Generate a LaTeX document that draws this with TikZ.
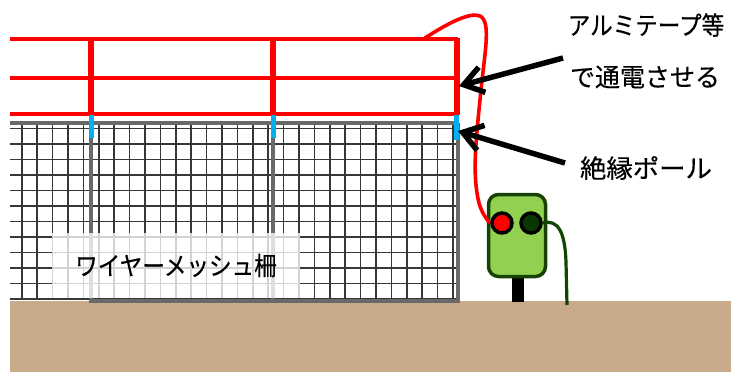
\documentclass[tikz,border=0pt]{standalone}
\usepackage{fontspec}
\newfontfamily\jpfont[FakeBold=0.4]{Noto Sans CJK JP}
\usetikzlibrary{arrows.meta}

\definecolor{wirered}{RGB}{255,0,0}
\definecolor{insblue}{RGB}{0,176,240}
\definecolor{framegray}{RGB}{105,105,105}
\definecolor{meshgray}{RGB}{55,55,55}
\definecolor{soil}{RGB}{200,170,138}
\definecolor{boxgreen}{RGB}{146,208,80}
\definecolor{boxedge}{RGB}{25,65,5}
\definecolor{termgreen}{RGB}{10,55,0}
\definecolor{earthwire}{RGB}{15,70,0}

\pgfdeclarelayer{front}
\pgfsetlayers{main,front}

% condensed Japanese text: \jptext{horizontal factor}{text}
\newcommand{\jptext}[2]{\scalebox{#1}[1]{#2}}

\begin{document}
\begin{tikzpicture}[x=1pt,y=-1pt,
  labeltext/.style={font=\jpfont\fontsize{25.5}{30}\selectfont, inner sep=0pt},
  callout/.style={line width=5.5pt, black, -{Straight Barb[length=19pt,width=26pt]}},
  hotwire/.style={wirered, line width=3.6pt},
  hotpost/.style={wirered, line width=6pt},
  insulator/.style={insblue, line width=5pt},
  frame/.style={framegray, line width=4pt},
  meshline/.style={meshgray, line width=1.6pt},
  meshlabel/.style={fill=white, fill opacity=0.78, text opacity=1, inner sep=0pt,
    minimum width=248pt, minimum height=65pt,
    font=\jpfont\fontsize{25.5}{30}\selectfont},
  energizer/.style={draw=boxedge, fill=boxgreen, line width=3.5pt, rounded corners=10pt,
    minimum width=57pt, minimum height=82pt, inner sep=0pt},
  terminal/.style={circle, draw=black, line width=3.5pt, minimum size=20pt, inner sep=0pt},
  earthline/.style={earthwire, line width=3.2pt},
]
\useasboundingbox (0,0) rectangle (731,372);

% ground
\fill[soil] (10,301) rectangle (731,372);

% wire mesh panels
\fill[white] (10,122) rectangle (458,301);
\foreach \i in {0,...,28}
  \draw[meshline] ({21.7+15.4*\i},124) -- ({21.7+15.4*\i},300);
\foreach \j in {0,...,11}
  \draw[meshline] (10,{128.3+15.5*\j}) -- (457,{128.3+15.5*\j});
\draw[frame] (10,122.5) -- (458,122.5);
\draw[frame] (91,122.5) -- (91,301) -- (458,301) -- (458,122.5);
\draw[frame] (273,122.5) -- (273,301);

% electrified wires
\foreach \y in {39,78,114}
  \draw[hotwire] (10,\y) -- (458,\y);

% posts: conductive tops and insulating sleeves
\foreach \x in {91,273}{
  \draw[hotpost] (\x,37.5) -- (\x,115);
  \draw[insulator] (\x,115) -- (\x,138);
}
\draw[hotpost] (456.5,37.5) -- (456.5,115);
\draw[insulator] (456.5,115) -- (456.5,140);

% label of the mesh fence
\node[meshlabel] (meshname) at (176,265.5) {\jptext{0.885}{ワイヤーメッシュ柵}};

% energizer on its stand
\fill[black] (512,276) rectangle (524,302);
\node[energizer] (unit) at (517,235.5) {};
\begin{pgfonlayer}{front}
  \node[terminal, fill=wirered] (live) at (502,223) {};
  \node[terminal, fill=termgreen] (earth) at (531,223) {};
\end{pgfonlayer}
\coordinate (tap) at (425,38);
\coordinate (rod) at (567,305);

% lead from the top wire to the live terminal
\draw[hotwire] (tap) .. controls (450,22) and (470,12) .. (480,16)
  .. controls (492,22) and (484,55) .. (480,100)
  .. controls (476,140) and (472,175) .. (479,203)
  .. controls (482,214) and (488,221) .. (live.west);
% earth lead into the ground
\draw[earthline] (earth.east) .. controls (558,219) and (565,232) .. (566,262) -- (rod);

% callouts
\node[labeltext] (tapeA) at (646,25) {\jptext{0.885}{アルミテープ等}};
\node[labeltext] (tapeB) at (645,77) {\jptext{0.98}{で通電させる}};
\node[labeltext] (pole) at (646,168) {\jptext{1.035}{絶縁ポール}};
\coordinate (tailA) at (563,58);
\coordinate (tipA) at (459,86);
\coordinate (tailB) at (565,163);
\coordinate (tipB) at (458,131);
\draw[callout] (tailA) -- (tipA);
\draw[callout] (tailB) -- (tipB);
\end{tikzpicture}
\end{document}
